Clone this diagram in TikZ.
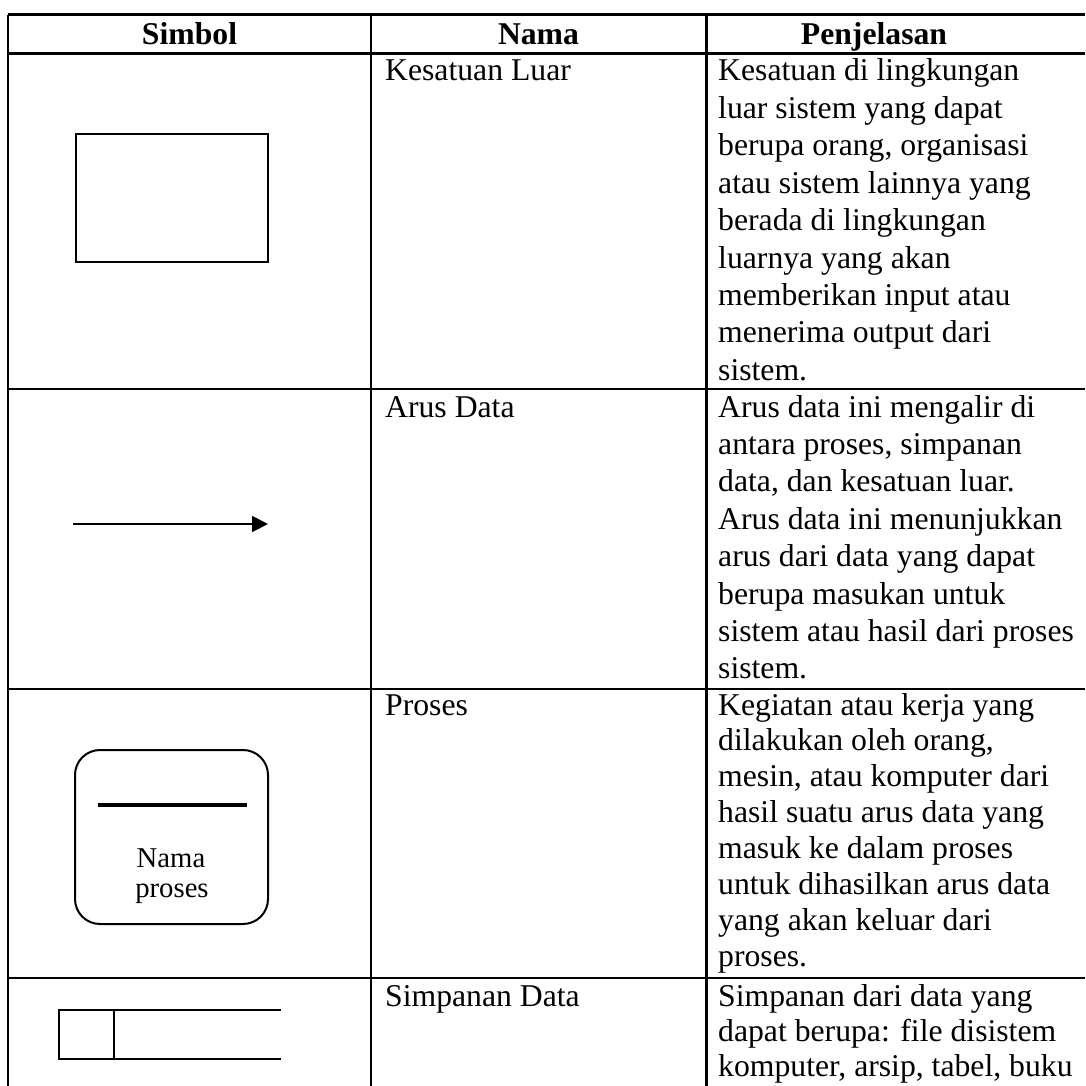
\documentclass[tikz,border=0pt]{standalone}
\usepackage{fontspec}
\setmainfont{Liberation Serif}
\usetikzlibrary{arrows.meta}
\begin{document}
\begin{tikzpicture}[x=1pt,y=-1pt,
  tbl/.style={line width=2.6pt,black},
  sym/.style={line width=2pt,black},
  txt/.style={anchor=base west,inner sep=0pt,font=\fontsize{31.7}{36.4}\selectfont},
  head/.style={anchor=base,inner sep=0pt,font=\fontsize{31.7}{36.4}\selectfont\bfseries},
  small/.style={anchor=base,inner sep=0pt,font=\fontsize{28.7}{30}\selectfont}]
\useasboundingbox (0,0) rectangle (1085,1086);

% table rules
\foreach \y in {14.7,53.3,389,689,978}
  \draw[tbl] (8,\y) -- (1085,\y);
\foreach \x in {8,371,706.7}
  \draw[tbl] (\x,14.7) -- (\x,1086);

% header
\node[head] (hSimbol) at (189.5,45) {Simbol};
\node[head] (hNama) at (538.5,45) {Nama};
\node[head] (hPenj) at (874,45) {Penjelasan};

% names
\node[txt] (n1) at (385,81) {Kesatuan Luar};
\node[txt] (n2) at (385,417) {Arus Data};
\node[txt] (n3) at (385,715) {Proses};
\node[txt] (n4) at (385,1006) {Simpanan Data};

% descriptions
\foreach \t [count=\i] in {{Kesatuan di lingkungan},{luar sistem yang dapat},{berupa orang, organisasi},{atau sistem lainnya yang},{berada di lingkungan},{luarnya yang akan},{memberikan input atau},{menerima output dari},{sistem.}}
  \node[txt] (da\i) at (718,{81+(\i-1)*37.4}) {\t};
\foreach \t [count=\i] in {{Arus data ini mengalir di},{antara proses, simpanan},{data, dan kesatuan luar.},{Arus data ini menunjukkan},{arus dari data yang dapat},{berupa masukan untuk},{sistem atau hasil dari proses},{sistem.}}
  \node[txt] (db\i) at (718,{417+(\i-1)*37.4}) {\t};
\foreach \t [count=\i] in {{Kegiatan atau kerja yang},{dilakukan oleh orang,},{mesin, atau komputer dari},{hasil suatu arus data yang},{masuk ke dalam proses},{untuk dihasilkan arus data},{yang akan keluar dari},{proses.}}
  \node[txt] (dc\i) at (718,{715+(\i-1)*35.9}) {\t};
\foreach \t [count=\i] in {{Simpanan dari data yang},{dapat berupa: file disistem},{komputer, arsip, tabel, buku}}
  \node[txt] (dd\i) at (718,{1006+(\i-1)*35.3}) {\t};

% external entity
\node[draw,line width=2.6pt,minimum width=192pt,minimum height=128pt,inner sep=0pt] (entity) at (172,198) {};

% data flow
\coordinate (flowA) at (73,524);
\coordinate (flowB) at (268,524);
\draw[sym,-{Triangle[length=16pt,width=16pt]}] (flowA) -- (flowB);

% process
\node[draw,sym,rounded corners=25pt,minimum width=193pt,minimum height=174pt,inner sep=0pt] (proc) at (171.5,837) {};
\coordinate (barL) at (98,805);
\coordinate (barR) at (247,805);
\draw[line width=4pt] (barL) -- (barR);
\node[small] (procA) at (171,867) {Nama};
\node[small] (procB) at (172,897) {proses};

% data store
\coordinate (stTR) at (281,1010);
\coordinate (stTL) at (59,1010);
\coordinate (stBL) at (59,1059);
\coordinate (stBR) at (281,1059);
\draw[sym] (stTR) -- (stTL) -- (stBL) -- (stBR);
\draw[sym] (114,1010) -- (114,1059);
\end{tikzpicture}
\end{document}
